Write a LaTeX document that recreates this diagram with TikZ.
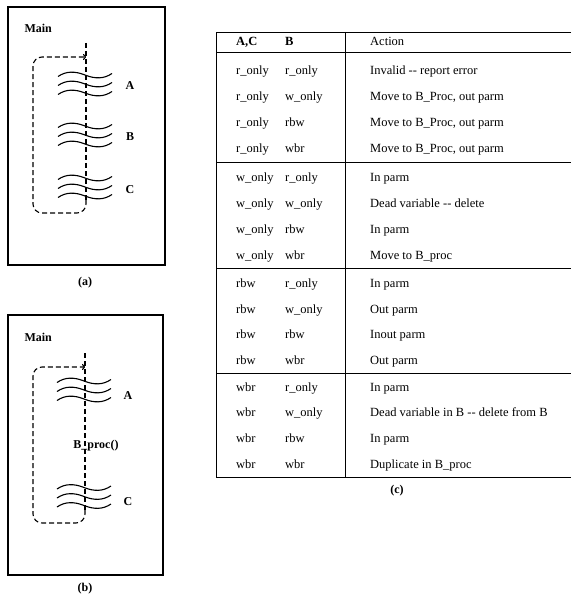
\documentclass[tikz,border=0pt]{standalone}
\usepackage{fontspec}
\setmainfont{Liberation Serif}
\usetikzlibrary{arrows.meta,positioning}

\begin{document}
\begin{tikzpicture}[x=1pt,y=-1pt,
  font=\fontsize{12}{14}\selectfont,
  frame/.style={draw,line width=1.2pt},
  flow/.style={line width=1.1pt,dash pattern=on 5pt off 3pt},
  loop/.style={flow,rounded corners=9pt,-{To[length=3pt,width=6pt]}},
  ripple/.pic={\draw[line width=1.1pt] (0,1.5) .. controls (8,-4) and (17,-4) .. (27,0)
     .. controls (37,4) and (46,4) .. (54,-1.5);},
  lbl/.style={font=\fontsize{12}{14}\selectfont\bfseries},
  cell/.style={anchor=base west,inner sep=0pt,font=\fontsize{12.5}{14}\selectfont},
  rule/.style={line width=0.9pt}]
\useasboundingbox (0,0) rectangle (571,596);

% (a) three calls in Main
\draw[frame] (8,7) rectangle (165,265);
\node[lbl,anchor=west] (mainA) at (21,28) {Main};
\coordinate (a-top) at (86,43);
\coordinate (a-bot) at (86,200);
\coordinate (a-in) at (86,57);
\draw[flow] (a-top) -- (a-bot);
\draw[loop] (a-bot) |- (33,213) |- (a-in);
\foreach \y/\n/\ly in {84/A/86,135/B/137,187/C/190}{
  \foreach \d in {-9,0,9} \pic at (58,\y+\d) {ripple};
  \node[lbl] (a-\n) at (130,\ly) {\n};
}
\node[lbl] (cap-a) at (85,283) {(a)};

% (b) B moved out to B_proc
\draw[frame] (8,315) rectangle (163,575);
\node[lbl,anchor=west] (mainB) at (21,337) {Main};
\coordinate (b-top) at (85,353);
\coordinate (b-bot) at (85,510);
\coordinate (b-in) at (85,367);
\draw[flow] (b-top) -- (b-bot);
\draw[loop] (b-bot) |- (33,523) |- (b-in);
\foreach \y/\n/\ly in {390/A/396,496.5/C/502}{
  \foreach \d in {-9,0,9} \pic at (57,\y+\d) {ripple};
  \node[lbl] (b-\n) at (128,\ly) {\n};
}
\node[lbl] (bproc) at (96,446) {B\_proc()};
\node[lbl] (cap-b) at (85,589) {(b)};

% (c) decision table
\draw[rule] (571,32) -- (216,32) -- (216,477) -- (571,477);
\draw[rule] (345,32) -- (345,477);
\foreach \y in {52,162,268,373} \draw[rule] (216,\y) -- (571,\y);
\node[cell,font=\fontsize{12.5}{14}\selectfont\bfseries] (h-ac) at (236,46) {A,C};
\node[cell,font=\fontsize{12.5}{14}\selectfont\bfseries] (h-b) at (285,46) {B};
\node[cell] (h-act) at (370,46) {Action};
\foreach \y/\p/\q/\r [count=\i] in {
  71/r\_only/r\_only/{Invalid -{}- report error},
  97/r\_only/w\_only/{Move to B\_Proc, out parm},
  123/r\_only/rbw/{Move to B\_Proc, out parm},
  149/r\_only/wbr/{Move to B\_Proc, out parm},
  177/w\_only/r\_only/{In parm},
  203/w\_only/w\_only/{Dead variable -{}- delete},
  229/w\_only/rbw/{In parm},
  255/w\_only/wbr/{Move to B\_proc},
  283/rbw/r\_only/{In parm},
  309/rbw/w\_only/{Out parm},
  334/rbw/rbw/{Inout parm},
  360/rbw/wbr/{Out parm},
  387/wbr/r\_only/{In parm},
  412/wbr/w\_only/{Dead variable in B -{}- delete from B},
  438/wbr/rbw/{In parm},
  464/wbr/wbr/{Duplicate in B\_proc}}{
  \node[cell] (ac-\i) at (236,\y+4) {\p};
  \node[cell] (b-\i) at (285,\y+4) {\q};
  \node[cell] (act-\i) at (370,\y+4) {\r};
}
\node[lbl] (cap-c) at (397,491) {(c)};
\end{tikzpicture}
\end{document}
